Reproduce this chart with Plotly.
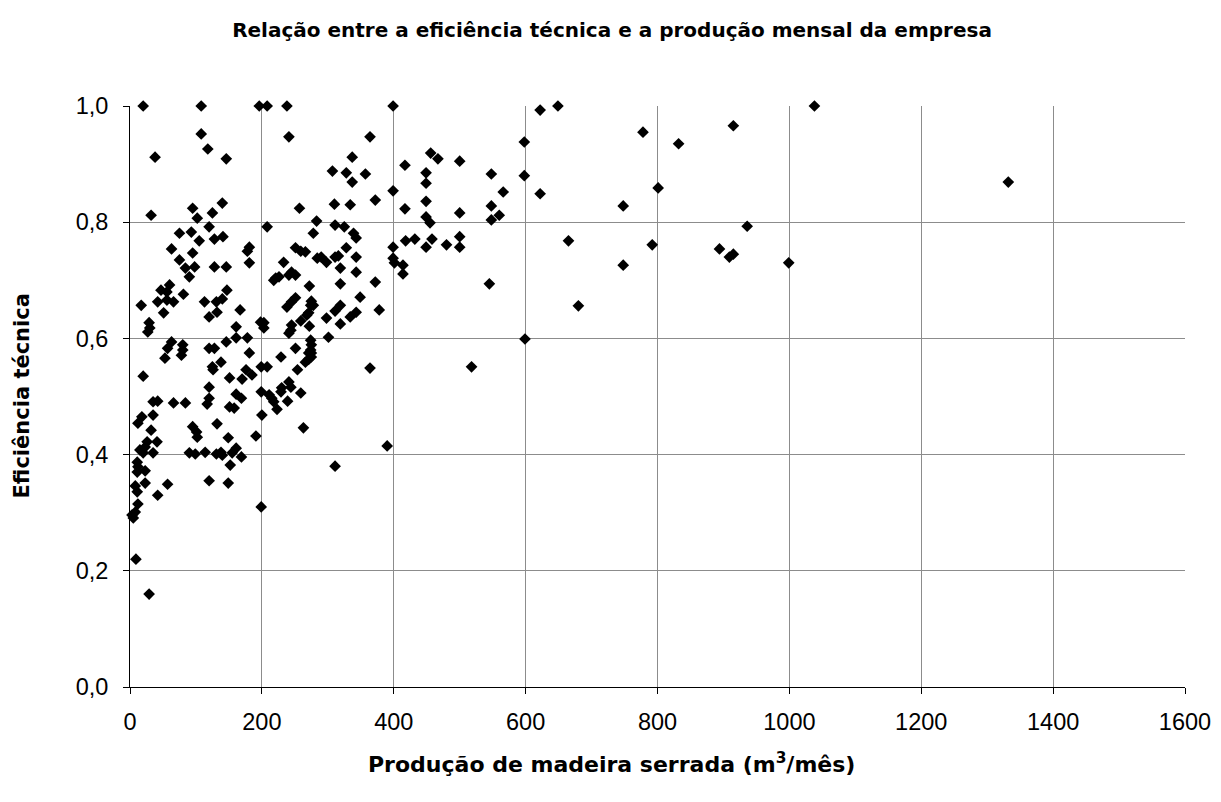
import plotly.graph_objects as go

# Produção de madeira serrada (m3/mês)
producao = [
    20, 108, 196, 108, 118, 38, 146, 140, 95, 125, 32, 102, 120,
    208, 238, 399, 241, 364, 337, 307, 328, 357, 337, 399, 372, 310, 334, 257, 283, 208, 311, 325,
    598, 456, 467, 500, 417, 449, 548, 598, 449, 566, 449, 548, 417, 500, 560, 449, 548, 455,
    622, 649, 1038, 778, 915, 832, 622, 801, 748, 936, 665, 792, 894, 909, 915, 999, 748, 680, 599, 1332,
    418, 432, 458, 449, 480, 500, 500, 414, 414, 545, 518,
    278, 339, 343, 399, 328, 251, 259, 266, 290, 284, 311, 316, 343, 233, 298, 399, 401, 319, 343,
    245, 251, 241, 221, 226, 218, 372, 272, 319, 349, 275, 274, 278, 251, 245, 238, 319, 343, 311,
    378, 271, 268, 298, 334, 259, 245, 244, 241, 203, 198, 203, 272, 319, 301, 274, 275, 274, 275,
    271, 251, 229,
    75, 93, 105, 128, 141, 63, 95, 181, 178, 181, 75, 128, 146, 98, 84, 90, 147, 60, 47, 56, 81,
    42, 56, 66, 17, 113, 131, 140, 51, 167, 132, 120, 29, 30, 27, 161, 161, 178, 146, 181, 63, 57,
    80, 80, 53, 120, 128,
    78, 20, 138, 125, 126, 199, 176, 185, 151, 170, 120, 199, 161, 169, 35, 42, 66, 84, 120, 117,
    151, 158, 35, 18, 12, 132, 32, 95, 101, 102, 149, 191, 26, 23, 41, 15, 20, 35, 90, 99, 114,
    131, 138, 140, 155, 161, 169, 152, 11, 12, 11, 23, 120, 149, 57, 23, 8,
    266, 271, 275, 208, 254, 364, 241, 244, 230, 229, 211, 215, 218, 259, 239, 223, 200, 263, 390, 311,
    11, 42, 12, 8, 3, 5, 199, 9, 29,
]

# Eficiência técnica
eficiencia = [
    1.0, 1.0, 1.0, 0.952, 0.926, 0.912, 0.909, 0.833, 0.824, 0.816, 0.812, 0.807, 0.792,
    1.0, 1.0, 1.0, 0.947, 0.947, 0.912, 0.888, 0.885, 0.883, 0.869, 0.854, 0.838, 0.831, 0.830, 0.824, 0.802, 0.792, 0.795, 0.792,
    0.938, 0.919, 0.909, 0.905, 0.898, 0.885, 0.883, 0.880, 0.867, 0.852, 0.836, 0.828, 0.823, 0.816, 0.812, 0.809, 0.804, 0.799,
    0.993, 1.0, 1.0, 0.955, 0.966, 0.935, 0.849, 0.859, 0.828, 0.793, 0.768, 0.761, 0.754, 0.740, 0.745, 0.730, 0.726, 0.656, 0.599, 0.869,
    0.768, 0.771, 0.771, 0.757, 0.761, 0.775, 0.757, 0.726, 0.711, 0.694, 0.551,
    0.781, 0.781, 0.773, 0.757, 0.756, 0.756, 0.750, 0.749, 0.740, 0.738, 0.740, 0.742, 0.740, 0.731, 0.731, 0.738, 0.730, 0.721, 0.714,
    0.714, 0.709, 0.709, 0.704, 0.706, 0.700, 0.697, 0.690, 0.694, 0.671, 0.664, 0.657, 0.657, 0.670, 0.663, 0.654, 0.657, 0.645, 0.647,
    0.649, 0.644, 0.640, 0.635, 0.637, 0.630, 0.623, 0.614, 0.609, 0.627, 0.628, 0.618, 0.621, 0.625, 0.602, 0.597, 0.589, 0.580, 0.575,
    0.575, 0.583, 0.568,
    0.781, 0.783, 0.768, 0.771, 0.775, 0.754, 0.747, 0.757, 0.750, 0.730, 0.735, 0.723, 0.723, 0.723, 0.721, 0.706, 0.683, 0.692, 0.683, 0.680, 0.676,
    0.663, 0.666, 0.663, 0.657, 0.663, 0.663, 0.668, 0.644, 0.649, 0.645, 0.637, 0.627, 0.618, 0.611, 0.620, 0.601, 0.601, 0.594, 0.575, 0.594, 0.583,
    0.589, 0.580, 0.566, 0.583, 0.583,
    0.571, 0.535, 0.559, 0.551, 0.546, 0.551, 0.546, 0.537, 0.532, 0.530, 0.516, 0.508, 0.504, 0.497, 0.491, 0.492, 0.489, 0.489, 0.497, 0.487,
    0.482, 0.480, 0.468, 0.465, 0.454, 0.453, 0.442, 0.448, 0.439, 0.430, 0.429, 0.432, 0.422, 0.413, 0.422, 0.408, 0.403, 0.403, 0.403, 0.401, 0.404,
    0.401, 0.404, 0.399, 0.403, 0.411, 0.396, 0.382, 0.387, 0.379, 0.370, 0.372, 0.355, 0.351, 0.349, 0.351, 0.346,
    0.559, 0.564, 0.568, 0.551, 0.546, 0.549, 0.525, 0.516, 0.515, 0.508, 0.503, 0.497, 0.491, 0.506, 0.492, 0.478, 0.468, 0.446, 0.415, 0.380,
    0.336, 0.330, 0.315, 0.301, 0.296, 0.291, 0.310, 0.220, 0.160,
]

title_text = "Relação entre a eficiência técnica e a produção mensal da empresa"
x_title = "Produção de madeira serrada (m<sup>3</sup>/mês)"
y_title = "Eficiência técnica"

FONT = "Liberation Sans, Arial, sans-serif"
BOLD_FONT = "DejaVu Sans, Verdana, sans-serif"

# page has an 8px body margin; keep the figure inside the 1221x802 window
W, H = 1205, 786
L, T = 122, 98
PW, PH = 1055, 581

fig = go.Figure()
fig.add_trace(go.Scatter(
    x=producao, y=eficiencia, mode="markers",
    marker=dict(symbol="diamond", size=9, color="black"),
    cliponaxis=False, showlegend=False,
))

fig.update_layout(
    width=W, height=H, autosize=False,
    paper_bgcolor="white", plot_bgcolor="white",
    margin=dict(l=L, r=W - L - PW, t=T, b=H - T - PH),
    font=dict(family=FONT, color="black"),
    separators=",.",
    title=dict(text="<b>" + title_text + "</b>", x=(612 - 8) / W, xref="container", xanchor="center",
               y=1 - 22 / H, yref="container", yanchor="middle",
               font=dict(size=20, family=BOLD_FONT, color="black")),
    annotations=[
        dict(text="<b>" + x_title + "</b>", xref="paper", yref="paper",
             x=(611 - 130) / PW, y=-(763 - 687) / PH, xanchor="center", yanchor="middle",
             showarrow=False, font=dict(size=22, family=BOLD_FONT, color="black")),
        dict(text="<b>" + y_title + "</b>", xref="paper", yref="paper",
             x=-(130 - 21) / PW, y=0.5, xanchor="center", yanchor="middle", textangle=-90,
             showarrow=False, font=dict(size=21, family=BOLD_FONT, color="black")),
    ],
)

fig.update_xaxes(
    range=[0, 1600], dtick=200, tickformat="d",
    automargin=False,
    showgrid=True, gridcolor="#8c8c8c", gridwidth=1,
    showline=True, linecolor="black", linewidth=1,
    ticks="outside", ticklen=6, tickcolor="black",
    ticklabelstandoff=8, ticklabeloverflow="allow",
    tickfont=dict(size=23.5, family=FONT, color="black"),
    zeroline=False,
)
fig.update_yaxes(
    range=[0, 1.0], dtick=0.2, tickformat=".1f",
    automargin=False,
    showgrid=True, gridcolor="#8c8c8c", gridwidth=1,
    showline=True, linecolor="black", linewidth=1,
    ticks="outside", ticklen=6, tickcolor="black",
    ticklabelstandoff=10,
    tickfont=dict(size=23.5, family=FONT, color="black"),
    zeroline=False,
)

fig.write_html("out.html")
